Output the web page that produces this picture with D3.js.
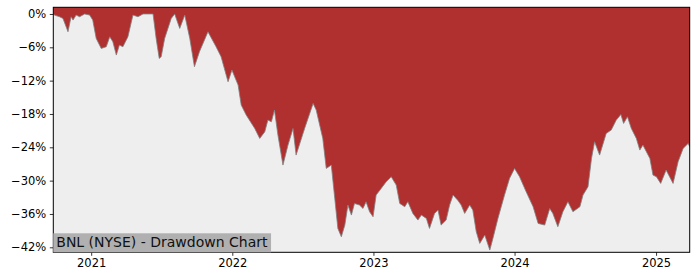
<!DOCTYPE html>
<html>
<head>
<meta charset="UTF-8" />
<style>
body { margin: 0; background: #fff; }
text { font-family: "DejaVu Sans", sans-serif; }
</style>
</head>
<body>
<script src="https://cdn.jsdelivr.net/npm/d3@7/dist/d3.min.js"></script>
<script>
var width = 700;
var height = 280;

// drawdown values (percent)
var dates = ["2020-09-25","2020-09-28","2020-10-11","2020-10-20","2020-11-02","2020-11-10","2020-11-15","2020-11-23","2020-12-02","2020-12-15",
	"2020-12-28","2021-01-05","2021-01-14","2021-01-27","2021-02-09","2021-02-18","2021-02-26","2021-03-07","2021-03-15","2021-03-24",
	"2021-04-06","2021-04-19","2021-05-02","2021-05-15","2021-05-28","2021-06-10","2021-06-18","2021-06-26","2021-07-01","2021-07-10",
	"2021-07-27","2021-08-05","2021-08-18","2021-08-31","2021-09-13","2021-09-25","2021-10-08","2021-10-30","2021-11-20","2021-12-03",
	"2021-12-21","2021-12-31","2022-01-16","2022-01-24","2022-02-06","2022-02-28","2022-03-13","2022-03-26","2022-04-03","2022-04-12",
	"2022-04-20","2022-04-29","2022-05-12","2022-05-25","2022-06-07","2022-06-15","2022-07-07","2022-07-29","2022-08-06","2022-08-23",
	"2022-09-01","2022-09-14","2022-09-23","2022-10-01","2022-10-10","2022-10-19","2022-10-27","2022-11-05","2022-11-13","2022-11-26",
	"2022-12-05","2022-12-13","2022-12-22","2022-12-31","2023-01-08","2023-01-21","2023-02-03","2023-02-16","2023-03-01","2023-03-10",
	"2023-03-23","2023-03-31","2023-04-13","2023-04-26","2023-05-05","2023-05-18","2023-05-26","2023-06-08","2023-06-17","2023-06-25",
	"2023-07-08","2023-07-17","2023-07-26","2023-08-08","2023-08-16","2023-08-25","2023-09-07","2023-09-15","2023-09-24","2023-10-03",
	"2023-10-16","2023-10-29","2023-11-06","2023-11-19","2023-12-06","2023-12-19","2024-01-01","2024-01-14","2024-01-31","2024-02-18",
	"2024-03-02","2024-03-19","2024-04-01","2024-04-09","2024-04-22","2024-05-05","2024-05-18","2024-05-31","2024-06-18","2024-06-26",
	"2024-07-09","2024-07-18","2024-07-26","2024-08-08","2024-08-25","2024-09-07","2024-09-20","2024-10-02","2024-10-09","2024-10-19",
	"2024-10-29","2024-11-11","2024-11-20","2024-11-28","2024-12-16","2024-12-24","2025-01-02","2025-01-13","2025-01-27","2025-02-14",
	"2025-02-27","2025-03-12","2025-03-25","2025-03-29"];
var drawdown = [0,-0.2,-0.5,-0.8,-3.2,-0.5,-1.1,-0.2,-0.5,0,
	-0.2,-1.1,-4.4,-6.2,-5.9,-4.1,-5.0,-7.4,-5.6,-5.9,
	-4.1,-0.2,-0.5,0,0,0,-4.4,-8.0,-7.7,-4.4,
	-0.8,0,-2.6,-0.2,-4.4,-9.5,-6.8,-3.2,-5.9,-7.7,
	-12.2,-10.1,-12.8,-16.4,-18.2,-20.6,-22.4,-21.2,-19.1,-19.4,
	-17.3,-21.8,-27.2,-23.6,-20.6,-25.4,-20.6,-16.1,-17.3,-22.4,
	-27.8,-27.2,-33.2,-38.6,-40.1,-38.0,-34.4,-36.2,-34.1,-34.4,
	-35.0,-33.8,-35.6,-36.5,-32.6,-31.4,-30.2,-29.3,-30.8,-34.1,
	-34.7,-33.8,-35.9,-37.1,-36.2,-36.8,-38.6,-35.9,-35.3,-38.0,
	-37.1,-34.4,-32.6,-33.6,-34.4,-35.9,-34.4,-35.3,-39.2,-41.3,
	-39.8,-42.5,-40.4,-36.8,-32.6,-29.6,-27.8,-29.3,-32.0,-34.7,
	-37.7,-38.0,-35.0,-35.9,-38.3,-35.6,-33.8,-35.6,-34.7,-32.6,
	-31.1,-26.0,-23.0,-25.4,-21.5,-20.9,-19.1,-18.1,-19.7,-18.5,
	-20.6,-22.4,-24.5,-23.6,-26.0,-29.0,-29.3,-30.5,-28.1,-30.5,
	-26.6,-24.2,-23.3,-23.9];
var yTicks = [0,-6,-12,-18,-24,-30,-36,-42];
var xTickYears = [2021,2022,2023,2024,2025];
var title = "BNL (NYSE) - Drawdown Chart";

var margin = {left:53.3, right:10.3, top:7.3, bottom:27.7};
var parse = d3.timeParse("%Y-%m-%d");
var data = dates.map((d,i) => ({date:parse(d), value:drawdown[i]}));

var svg = d3.select("body")
			.append("svg")
			.attr("width",width)
			.attr("height",height);

var x = d3.scaleTime()
		  .domain(d3.extent(data, d => d.date))
		  .range([margin.left, width-margin.right]);
var y = d3.scaleLinear()
		  .domain([-42.9, 1.2])
		  .range([height-margin.bottom, margin.top]);

//背景
svg.append("rect")
   .attr("x",margin.left)
   .attr("y",margin.top)
   .attr("width",width-margin.left-margin.right)
   .attr("height",height-margin.top-margin.bottom)
   .attr("fill","#eeeeee");

//回撤区域（从顶部填到曲线）
var area = d3.area()
			 .x(d => x(d.date))
			 .y0(margin.top)
			 .y1(d => y(d.value));
svg.append("path")
   .datum(data)
   .attr("d",area)
   .attr("fill","#b03030");

svg.append("path")
   .datum(data)
   .attr("d",d3.line().x(d => x(d.date)).y(d => y(d.value)))
   .attr("fill","none")
   .attr("stroke","#808080")
   .attr("stroke-width",0.8);

//坐标轴
var yAxis = d3.axisLeft(y)
			  .tickValues(yTicks)
			  .tickSize(3.5)
			  .tickPadding(3.5)
			  .tickFormat(d => (d < 0 ? "\u2212" + Math.abs(d) : d) + "%");
var gy = svg.append("g")
			.attr("transform","translate(" + margin.left + ",0)")
			.call(yAxis);

var xAxis = d3.axisBottom(x)
			  .tickValues(xTickYears.map(v => new Date(v,0,1)))
			  .tickSize(3.5)
			  .tickPadding(3.5)
			  .tickFormat(d3.timeFormat("%Y"));
var gx = svg.append("g")
			.attr("transform","translate(0," + (height-margin.bottom) + ")")
			.call(xAxis);

[gx, gy].forEach(g => {
	g.select(".domain").remove();
	g.selectAll("text").attr("font-size","11.5px").attr("fill","#000")
	 .attr("font-family","DejaVu Sans, sans-serif");
	g.selectAll("line").attr("stroke","#000").attr("stroke-width",0.8);
});

//边框
svg.append("rect")
   .attr("x",margin.left)
   .attr("y",margin.top)
   .attr("width",width-margin.left-margin.right)
   .attr("height",height-margin.top-margin.bottom)
   .attr("fill","none")
   .attr("stroke","#000")
   .attr("stroke-width",1);

//标题框
var tbox = svg.append("g");
var tText = tbox.append("text")
				.attr("x",margin.left+3)
				.attr("y",height-margin.bottom-5.5)
				.attr("font-size","14px")
				.attr("fill","#111")
				.text(title);
var bb = tText.node().getBBox();
tbox.insert("rect","text")
	.attr("x",margin.left)
	.attr("y",height-margin.bottom-19)
	.attr("width",bb.width+6)
	.attr("height",19)
	.attr("fill","#b0b0b0");
</script>
</body>
</html>
